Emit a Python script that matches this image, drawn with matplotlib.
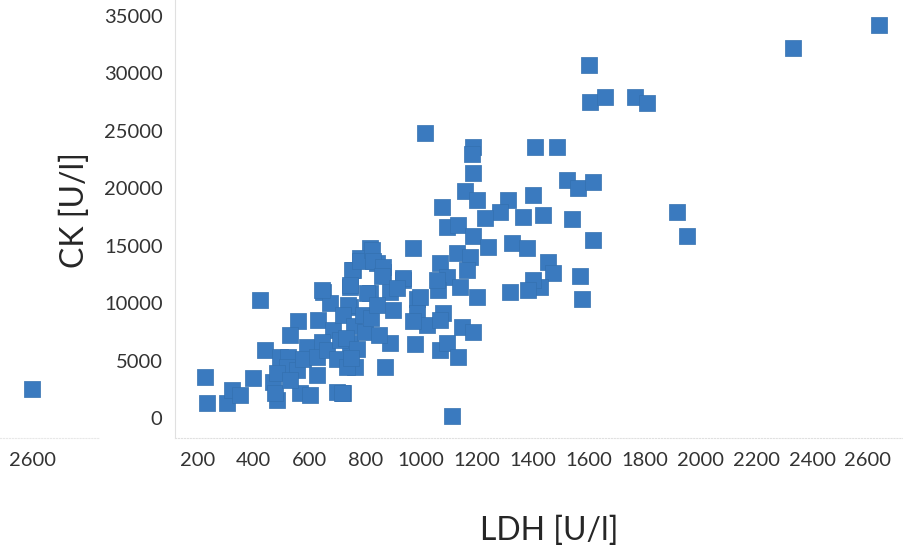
import matplotlib.pyplot as plt

# LDH vs CK values
ldh = [2640, 2330, 1600, 1604, 1658, 1765, 1808, 1407, 1486, 1522, 1561, 1615,
       1436, 1540, 1615, 1454, 1472, 1568, 1575, 1916, 1952, 1425, 1013, 1185,
       1181, 1185, 1156, 1199, 1074, 1400, 1310, 1282, 1228, 1364, 1092, 1131,
       1185, 1239, 1325, 1378, 1400, 1382, 1318, 1067, 1128, 1174, 1163, 1092,
       1060, 1138, 1199, 970, 816, 780, 755, 841, 863, 744, 934, 816, 888, 744,
       984, 1056, 898, 984, 1020, 1077, 970, 1067, 1146, 1185, 888, 977, 1067,
       1092, 1131, 870, 762, 1110, 719, 422, 225, 232, 304, 322, 350, 397, 440,
       469, 483, 476, 565, 601, 698, 716, 648, 673, 751, 744, 737, 558, 630, 684,
       530, 590, 644, 494, 522, 519, 555, 483, 576, 626, 662, 698, 734, 744, 626,
       530, 709, 644, 780, 823, 827, 863, 859, 934, 913, 995, 805,
       720, 760, 730, 770, 750, 790, 800, 820, 840, 850]
ck = [34200, 32200, 30700, 27500, 27900, 27900, 27400, 23600, 23600, 20700, 20000, 20500,
      17700, 17300, 15500, 13600, 12600, 12400, 10400, 17900, 15800, 11400, 24800, 23600,
      23000, 21300, 19800, 19000, 18400, 19400, 19000, 17900, 17400, 17500, 16600, 16800,
      15800, 14900, 15200, 14800, 12000, 11100, 11000, 13500, 14400, 14000, 12900, 12300,
      11100, 11400, 10500, 14800, 14800, 13900, 12900, 13500, 12700, 11400, 12000, 10900, 11000, 9700,
      10400, 12000, 9400, 9100, 8100, 9100, 8400, 8500, 7900, 7500, 6500, 6400, 5900,
      6500, 5300, 4400, 4400, 200, 2200, 10300, 3600, 1300, 1300, 2400, 2000, 3500, 5900,
      3100, 1600, 2200, 2200, 2000, 2300, 2200, 11000, 10000, 12900, 11600, 9800, 8400, 8500, 7700,
      7200, 6200, 6600, 5300, 5300, 4400, 4200, 3900, 5100, 5300, 5900, 5100, 4400, 6500, 3700,
      3300, 6800, 11100, 13700, 14600, 13700, 13100, 12400, 12200, 11300, 10500, 10900,
      9000, 8000, 7000, 6000, 5200, 9000, 7500, 8700, 9800, 7200]

# the single point shown past the axis break
ldh_out = [2600]
ck_out = [2500]

x_ticks = list(range(200, 2601, 200))
y_ticks = list(range(0, 35001, 5000))

blue = "#3a7abf"
font = "Lato"
plt.rcParams["font.family"] = [font, "DejaVu Sans"]

fig = plt.figure(figsize=(9.04, 5.56), dpi=100)
ax = fig.add_axes([175 / 904, 118 / 556, 1 - 175 / 904, 438 / 556])
ax2 = fig.add_axes([0, 118 / 556, 100 / 904, 438 / 556])

ax.scatter(ldh, ck, marker="s", s=125, color=blue, edgecolor="#3470b0", linewidth=0.5, zorder=3)
ax.set_xlim(118, 2729)
ax.set_ylim(-1740, 36380)
ax.set_xticks(x_ticks)
ax.set_yticks(y_ticks)
ax.tick_params(length=0, labelsize=14.5, labelcolor="#333333")
ax.tick_params(axis="y", pad=9)
ax.tick_params(axis="x", pad=10)
for s in ["top", "right"]:
    ax.spines[s].set_visible(False)
ax.spines["left"].set_color("#e0e0e0")
ax.spines["bottom"].set_color("#e0e0e0")
ax.spines["bottom"].set_linestyle(":")

ax2.scatter(ldh_out, ck_out, marker="s", s=125, color=blue, edgecolor="#3470b0", linewidth=0.5, zorder=3)
ax2.set_xlim(2485, 2844)
ax2.set_ylim(-1740, 36380)
ax2.set_xticks([2600])
ax2.set_yticks([])
ax2.tick_params(length=0, labelsize=14.5, labelcolor="#333333", pad=10)
for s in ["top", "right", "left"]:
    ax2.spines[s].set_visible(False)
ax2.spines["bottom"].set_color("#e8e8e8")
ax2.spines["bottom"].set_linestyle(":")
ax2.patch.set_alpha(0)

fig.text(75 / 904, 1 - 210 / 556, "CK [U/l]", rotation=90, ha="center", va="center",
         fontsize=23, color="#262626")
fig.text(549 / 904, 1 - 531 / 556, "LDH [U/l]", ha="center", va="center",
         fontsize=23, color="#262626")

fig.savefig("out.png", dpi=100)
